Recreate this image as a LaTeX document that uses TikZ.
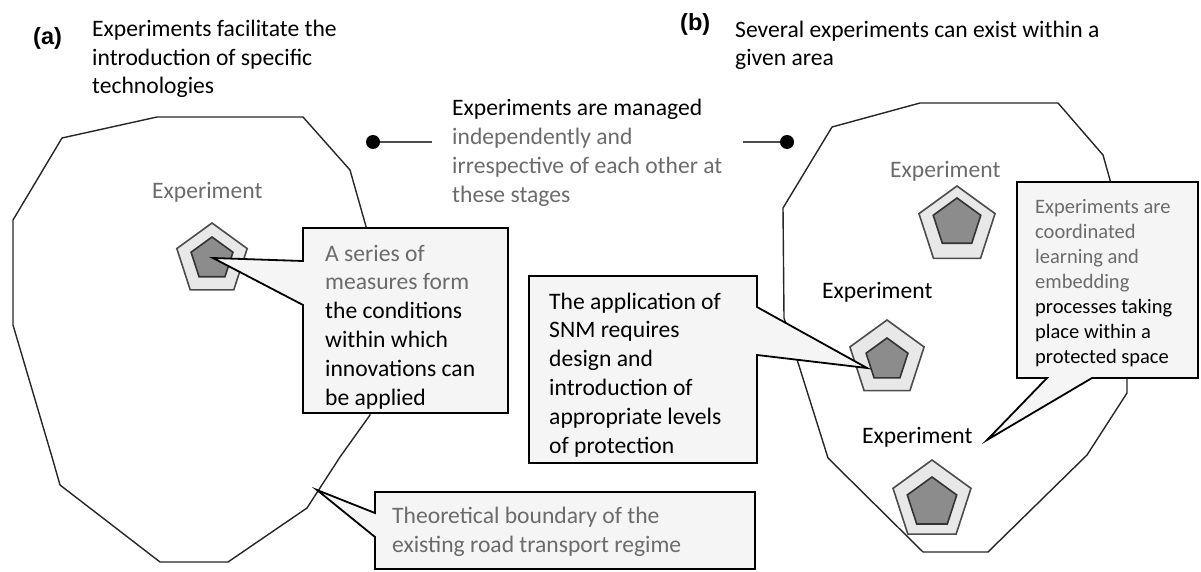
\documentclass[tikz,border=0pt]{standalone}
\usepackage{fontspec}
\setmainfont{Carlito}
\newfontfamily\tagfont{Liberation Sans}
\usetikzlibrary{shapes.geometric}
\colorlet{fade}{black!58}

\begin{document}
\begin{tikzpicture}[x=1pt,y=-1pt,
	every node/.style={inner sep=0pt, anchor=base west, align=left,
                       font=\fontsize{23.6}{28.8}\selectfont},
	faint/.style={text=fade},
	tag/.style={font=\tagfont\bfseries\fontsize{23.5}{28}\selectfont},
	small/.style={font=\fontsize{20.5}{25}\selectfont},
	border/.style={draw=black!85, line width=1.4pt, line join=round},
	bubble/.style={draw=black, line width=1.8pt, fill=black!4, line join=miter},
	outerpent/.style={regular polygon, regular polygon sides=5, anchor=center,
                      draw=black!70, line width=1.6pt, fill=black!9},
	innerpent/.style={regular polygon, regular polygon sides=5, anchor=center,
                      draw=black!80, line width=1.6pt, fill=black!45},
	dot/.style={circle, fill=black, minimum size=14pt, anchor=center},
	stem/.style={draw=black!70, line width=1.2pt}
]
	\useasboundingbox (0,0) rectangle (1201,572);
	% headings (multi-line nodes sit on their last baseline)
	\node (tagA) [tag] at (33,45) {(a)};
	\node (titleA) at (92,94) {Experiments facilitate the\\introduction of specific\\technologies};
	\node (tagB) [tag] at (680,31) {(b)};
	\node (titleB) at (735,66) {Several experiments can exist within a\\given area};
	\node (manage) at (452,202) {Experiments are managed\\\textcolor{fade}{independently and}\\\textcolor{fade}{irrespective of each other at}\\\textcolor{fade}{these stages}};
	\node (dotL) [dot] at (373,142) {};
	\coordinate (stemL) at (432,142);
	\draw[stem] (dotL) -- (stemL);
	\node (dotR) [dot] at (787,142) {};
	\coordinate (stemR) at (743,142);
	\draw[stem] (stemR) -- (dotR);

	% regime boundaries
	\draw[border] (157,117) -- (303,117) -- (350,170) -- (367,230) -- (372,330) -- (370,415)
		-- (340,457) -- (307,508) -- (228,562) -- (160,562) -- (60,485) -- (52,457)
		-- (13,325) -- (13,220) -- (62,138) -- cycle;
	\draw[border] (920,103) -- (1058,103) -- (1103,155) -- (1110,180) -- (1127,300) -- (1127,393)
		-- (1087,455) -- (988,552) -- (923,552) -- (828,458) -- (784,318) -- (783,208)
		-- (832,127) -- cycle;

	% experiments
	\node (outerA) [outerpent, minimum size=74pt] at (212,260) {};
	\node (coreA) [innerpent, minimum size=44pt] at (212,259) {};
	\node (expA) [faint] at (152,198) {Experiment};
	\node (outerB1) [outerpent, minimum size=80pt] at (957,226) {};
	\node (coreB1) [innerpent, minimum size=50pt] at (957,223) {};
	\node (expB1) [faint] at (890,178) {Experiment};
	\node (outerB2) [outerpent, minimum size=78pt] at (887,359) {};
	\node (coreB2) [innerpent, minimum size=44pt] at (887,360) {};
	\node (expB2) at (822,298) {Experiment};
	\node (outerB3) [outerpent, minimum size=82pt] at (932,501) {};
	\node (coreB3) [innerpent, minimum size=52pt] at (932,503) {};
	\node (expB3) at (862,443) {Experiment};

	% callouts
	\draw[bubble] (303,228) -- (508,228) -- (508,413) -- (303,413) -- (303,305) -- (213,258) -- (303,261) -- cycle;
	\node (measures) at (325,405) {\textcolor{fade}{A series of}\\\textcolor{fade}{measures form}\\the conditions\\within which\\innovations can\\be applied};
	\draw[bubble] (529,276) -- (757,276) -- (757,307) -- (867,368) -- (757,355) -- (757,463) -- (529,463) -- cycle;
	\node (snm) at (549,453) {The application of\\SNM requires\\design and\\introduction of\\appropriate levels\\of protection};
	\draw[bubble] (1017,182) -- (1198,182) -- (1198,378) -- (1092,378) -- (987,440) -- (1047,378) -- (1017,378) -- cycle;
	\node (coord) [small] at (1035,363) {\textcolor{fade}{Experiments are}\\\textcolor{fade}{coordinated}\\\textcolor{fade}{learning and}\\\textcolor{fade}{embedding}\\processes taking\\place within a\\protected space};
	\draw[bubble] (375,492) -- (755,492) -- (755,569) -- (375,569) -- (375,537) -- (317,490) -- (375,513) -- cycle;
	\node (regime) [faint] at (392,552) {Theoretical boundary of the\\existing road transport regime};
\end{tikzpicture}
\end{document}
